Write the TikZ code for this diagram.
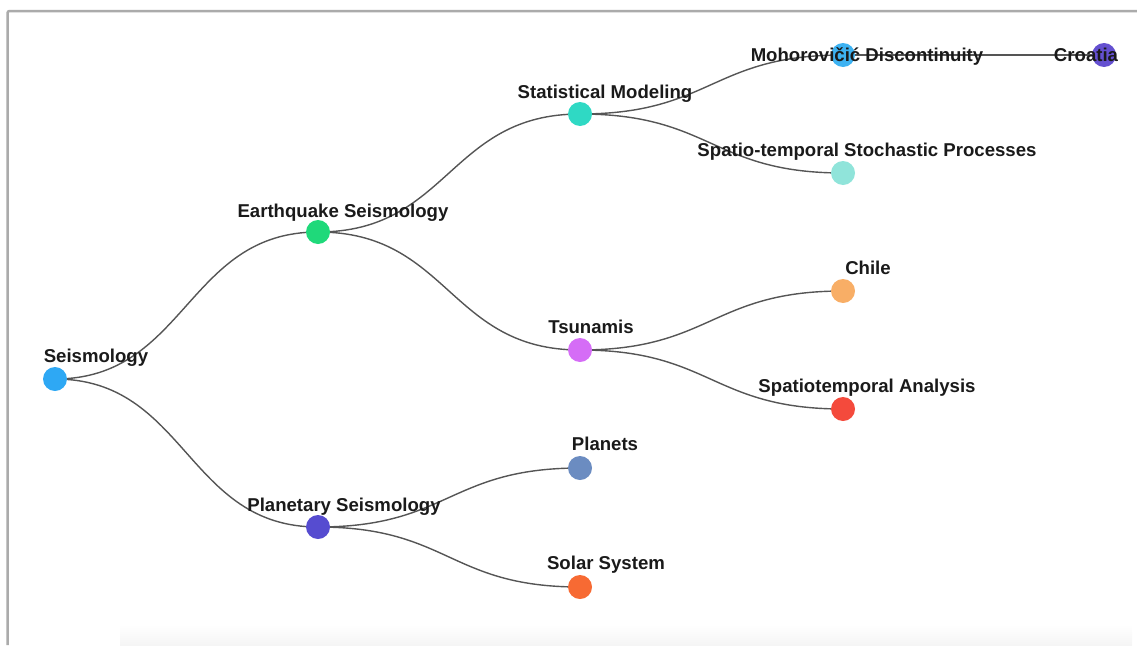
\documentclass[tikz,border=0pt]{standalone}
\usepackage{fontspec}
\setmainfont{Liberation Sans}
\usetikzlibrary{backgrounds,calc}
\definecolor{cseis}{HTML}{2EA8F4}
\definecolor{ceq}{HTML}{1FD97A}
\definecolor{cplan}{HTML}{564CD0}
\definecolor{cstat}{HTML}{2FD9C4}
\definecolor{ctsu}{HTML}{D56DF6}
\definecolor{cplanets}{HTML}{6B8CC1}
\definecolor{csolar}{HTML}{F76A33}
\definecolor{cmoho}{HTML}{3DB2F2}
\definecolor{cspt}{HTML}{90E4DA}
\definecolor{cchile}{HTML}{F8AE66}
\definecolor{cspa}{HTML}{F44A3C}
\definecolor{ccro}{HTML}{6450D0}
\definecolor{labelgray}{HTML}{1A1A1A}
\definecolor{linkgray}{HTML}{555555}
\definecolor{framegray}{HTML}{ABABAB}
\tikzset{
  bubble/.style={circle, fill=#1, draw=none, minimum size=24pt, inner sep=0pt},
  lbl/.style={anchor=base, font=\fontsize{18.6}{22}\selectfont\bfseries, text=labelgray, inner sep=0pt},
  link/.style={draw=linkgray, line width=1.4pt},
  framestyle/.style={draw=framegray, line width=2.5pt, rounded corners=2pt},
}
\newcommand\linkto[2]{\draw[link] let \p1=(#1), \p2=(#2) in (\p1) .. controls ({(\x1+\x2)/2},\y1) and ({(\x1+\x2)/2},\y2) .. (\p2);}
\begin{document}
\begin{tikzpicture}[x=1pt,y=-1pt]
\useasboundingbox (0,0) rectangle (1137,645);
% nodes (circles)
\node[bubble=cseis] (seis) at (55,379) {};
\node[bubble=ceq] (eq) at (318,232) {};
\node[bubble=cplan] (plan) at (318,527) {};
\node[bubble=cstat] (stat) at (580,114) {};
\node[bubble=ctsu] (tsu) at (580,350) {};
\node[bubble=cplanets] (planets) at (580,468) {};
\node[bubble=csolar] (solar) at (580,587) {};
\node[bubble=cmoho] (moho) at (843,55) {};
\node[bubble=cspt] (spt) at (843,173) {};
\node[bubble=cchile] (chile) at (843,291) {};
\node[bubble=cspa] (spa) at (843,409) {};
\node[bubble=ccro] (cro) at (1104,55) {};
% labels
\node[lbl] (seis-l) at (96,362) {Seismology};
\node[lbl] (eq-l) at (343,217) {Earthquake Seismology};
\node[lbl] (plan-l) at (344,511) {Planetary Seismology};
\node[lbl] (stat-l) at (605,98) {Statistical Modeling};
\node[lbl] (tsu-l) at (591,333) {Tsunamis};
\node[lbl] (planets-l) at (605,450) {Planets};
\node[lbl] (solar-l) at (606,569) {Solar System};
\node[lbl] (moho-l) at (867,61) {Mohorovičić Discontinuity};
\node[lbl] (spt-l) at (867,156) {Spatio-temporal Stochastic Processes};
\node[lbl] (chile-l) at (868,274) {Chile};
\node[lbl] (spa-l) at (867,392) {Spatiotemporal Analysis};
\node[lbl] (cro-l) at (1086,61) {Croatia};
\begin{scope}[on background layer]
  \shade[top color=white, bottom color=black!4, draw=none] (120,624) rectangle (1132,645);
  \draw[framestyle] (7.5,645) -- (7.5,11) -- (1137,11);
  \linkto{seis}{eq}
  \linkto{seis}{plan}
  \linkto{eq}{stat}
  \linkto{eq}{tsu}
  \linkto{plan}{planets}
  \linkto{plan}{solar}
  \linkto{stat}{moho}
  \linkto{stat}{spt}
  \linkto{tsu}{chile}
  \linkto{tsu}{spa}
  \linkto{moho}{cro}
\end{scope}
\end{tikzpicture}
\end{document}
